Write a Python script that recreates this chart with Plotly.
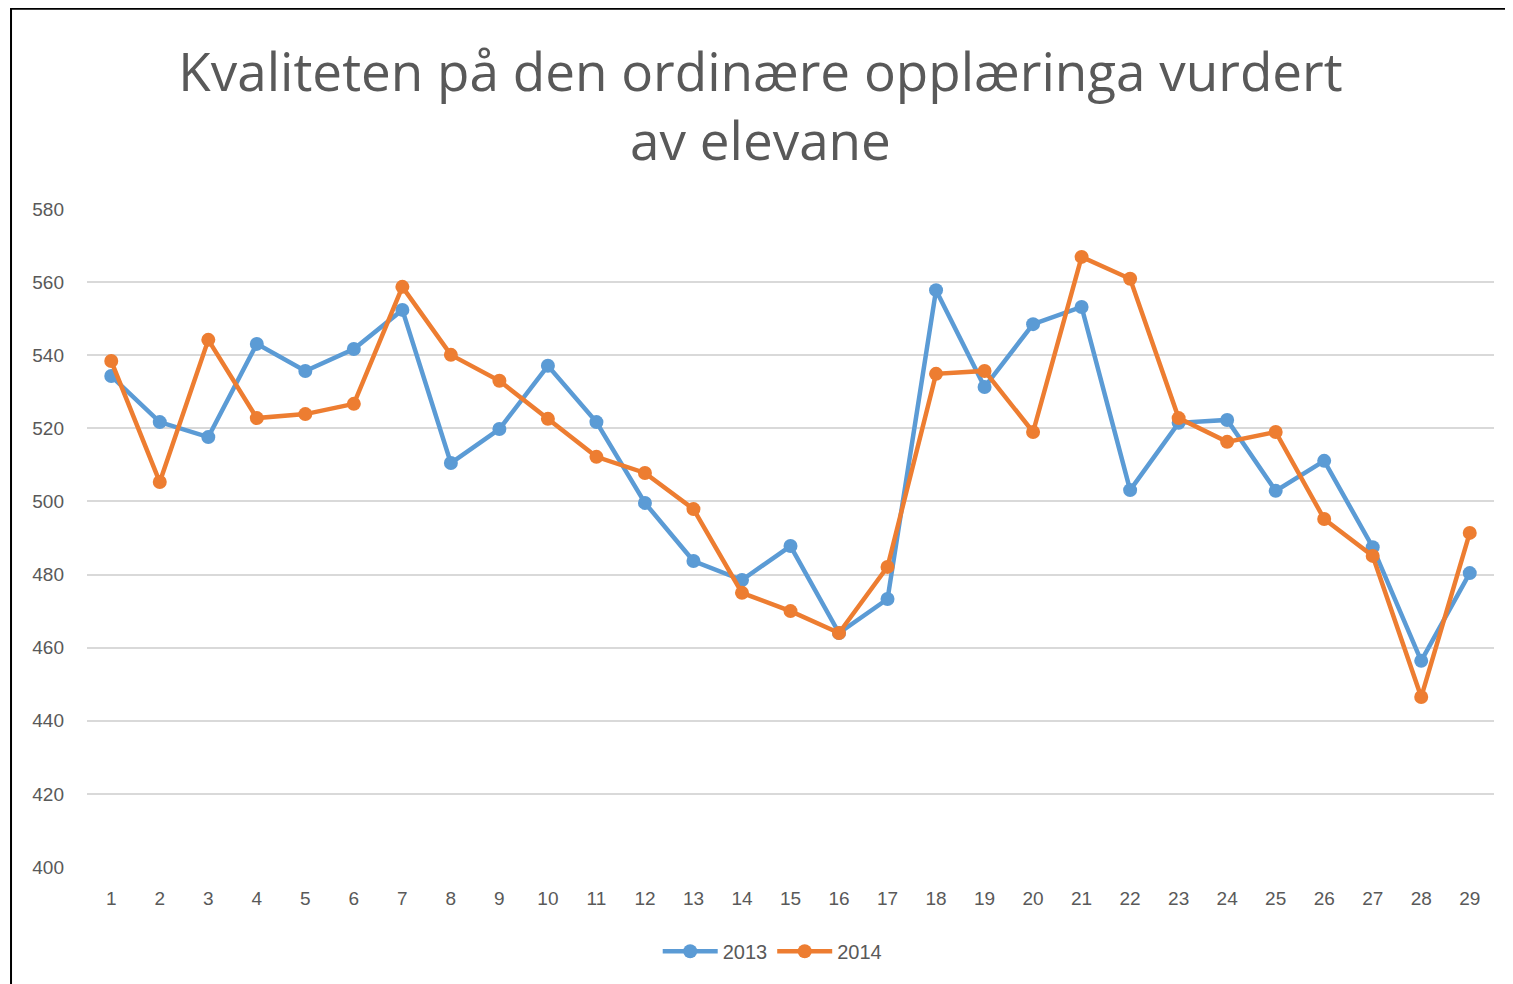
import plotly.graph_objects as go

categories = list(range(1, 30))
series_2013 = [534.3, 521.7, 517.6, 543.1, 535.7, 541.7, 552.4, 510.5, 519.8, 537.1,
               521.7, 499.6, 483.7, 478.5, 487.8, 464.0, 473.3, 557.8, 531.3, 548.5,
               553.2, 503.1, 521.5, 522.3, 502.9, 511.1, 487.5, 456.4, 480.4]
series_2014 = [538.4, 505.3, 544.2, 522.8, 523.9, 526.7, 558.7, 540.1, 533.0, 522.6,
               512.2, 507.8, 497.9, 475.0, 470.0, 464.0, 482.1, 534.9, 535.7, 519.0,
               566.9, 560.9, 522.8, 516.3, 519.0, 495.2, 485.1, 446.5, 491.4]
y_ticks = [400, 420, 440, 460, 480, 500, 520, 540, 560, 580]
title_text = "Kvaliteten på den ordinære opplæringa vurdert<br>av elevane"

BLUE = "#5b9bd5"
ORANGE = "#ed7d31"
GRAY = "#595959"

fig = go.Figure()
for name, vals, col in [("2013", series_2013, BLUE), ("2014", series_2014, ORANGE)]:
    fig.add_trace(go.Scatter(
        x=categories, y=vals, name=name, mode="lines+markers",
        line=dict(color=col, width=4.5),
        marker=dict(color=col, size=14),
    ))

fig.update_layout(
    width=1505, height=976,
    paper_bgcolor="white", plot_bgcolor="white",
    margin=dict(l=79, r=19, t=201, b=117),
    title=dict(text=title_text, x=0.5, xanchor="center", y=0.915, yanchor="top",
               font=dict(family="Open Sans, Lato, sans-serif", size=53, color=GRAY)),
    font=dict(family="Liberation Sans, Arial, sans-serif", color=GRAY, size=19),
    showlegend=True,
    legend=dict(orientation="h", x=0.487, xanchor="center", y=-0.128, yanchor="middle",
                font=dict(size=20, color=GRAY), itemwidth=55),
    xaxis=dict(range=[0.5, 29.5], tickmode="array", tickvals=categories,
               ticktext=[str(c) for c in categories], showgrid=False, zeroline=False,
               showline=False, ticks="", ticklabelstandoff=18,
               tickfont=dict(size=19, color=GRAY)),
    yaxis=dict(range=[400, 580], tickmode="array", tickvals=y_ticks,
               showgrid=True, gridcolor="#d9d9d9", gridwidth=1.5, zeroline=False,
               showline=False, ticks="", ticklabelstandoff=22,
               tickfont=dict(size=19, color=GRAY)),
    shapes=[dict(type="rect", xref="paper", yref="paper",
                 x0=-0.054, x1=1.012, y0=-0.2, y1=1.3045,
                 line=dict(color="black", width=2), fillcolor="rgba(0,0,0,0)", layer="below")],
)

fig.write_html("out.html")
